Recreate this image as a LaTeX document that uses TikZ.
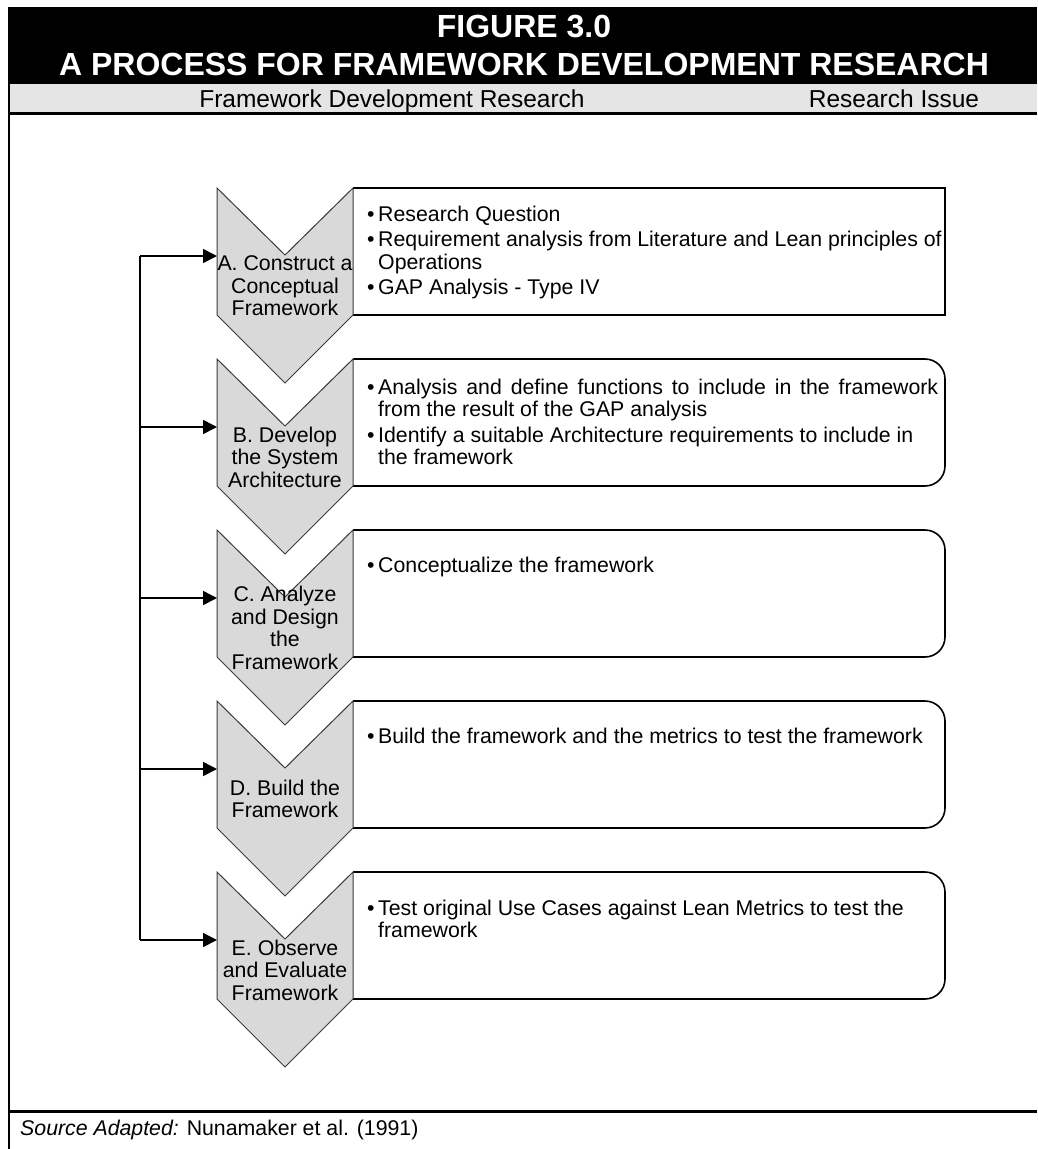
\documentclass[tikz,border=0pt]{standalone}
\usepackage{fontspec}
\setmainfont{Liberation Sans}
\usetikzlibrary{arrows.meta}

\definecolor{bandgray}{HTML}{E5E5E5}
\definecolor{chevfill}{HTML}{D9D9D9}
\definecolor{chevline}{HTML}{3A3A3A}

% bullet with hanging indent, continuation indent, and a justified full line
\newcommand{\bul}{\makebox[11pt][l]{\textbullet}}
\newcommand{\cont}{\hspace*{11pt}}
\newcommand{\fullline}[1]{\makebox[560pt][s]{#1}}

% one row: chevron step, issue box, feedback arrow
% #1 name, #2 top, #3 step text, #4 issue text, #5 issue text offset, #6 box corner style
\newcommand{\processrow}[6]{%
  \draw[issuebox,#6] (353,#2) -- (945,#2) -- (945,#2+127) -- (353,#2+127);
  \filldraw[stepshape] (217,#2) -- (285,#2+67) -- (353,#2) -- (353,#2+127)
     -- (285,#2+195) -- (217,#2+127) -- cycle;
  \node[steptext] (step#1) at (285,#2+98) {#3};
  \node[issuetext] (issue#1) at (367,#2+#5) {#4};
  \coordinate (bus#1) at (140,#2+68);
  \coordinate (in#1) at (217,#2+68);
  \draw[feedback] (bus#1) -- (in#1);
}

\begin{document}
\begin{tikzpicture}[x=1pt,y=-1pt,
  stepshape/.style={fill=chevfill, draw=chevline, line width=1pt, line join=miter},
  issuebox/.style={draw=black, line width=1.6pt, rounded corners=20pt},
  steptext/.style={align=center, inner sep=0pt, font=\fontsize{21.3}{22.5}\selectfont},
  issuetext/.style={anchor=north west, align=left, inner sep=0pt, font=\fontsize{21.3}{22.5}\selectfont},
  feedback/.style={line width=1.6pt, -{Triangle[length=14pt,width=14pt]}},
  busline/.style={line width=1.6pt},
  titletext/.style={anchor=base, white, inner sep=0pt, font=\bfseries\fontsize{32}{36}\selectfont},
  bandtext/.style={anchor=base, inner sep=0pt, font=\fontsize{24.5}{28}\selectfont}
]
\useasboundingbox (0,0) rectangle (1037,1149);

% header
\fill[black] (8,7) rectangle (1037,84);
\fill[bandgray] (8,84) rectangle (1037,112);
\draw[line width=3pt] (8,113) -- (1037,113);
\draw[line width=2.5pt] (9,7) -- (9,1149);
\draw[line width=3pt] (8,1111) -- (1037,1111);

\node[titletext] (title1) at (524,37) {FIGURE 3.0};
\node[titletext] (title2) at (524,75) {A PROCESS FOR FRAMEWORK DEVELOPMENT RESEARCH};
\node[bandtext] (colstep) at (392,107) {Framework Development Research};
\node[bandtext] (colissue) at (894,107) {Research Issue};

% process rows
\processrow{A}{188}{A. Construct a\\Conceptual\\Framework}
  {\bul Research Question\\[3pt]
   \bul Requirement analysis from Literature and Lean principles of\\
   \cont Operations\\[3pt]
   \bul GAP Analysis - Type IV}{17.5}{sharp corners}
\processrow{B}{359}{B. Develop\\the System\\Architecture}
  {\bul\fullline{Analysis and define functions to include in the framework}\\
   \cont from the result of the GAP analysis\\[3pt]
   \bul Identify a suitable Architecture requirements to include in\\
   \cont the framework}{19.5}{}
\processrow{C}{530}{C. Analyze\\and Design\\the\\Framework}
  {\bul Conceptualize the framework}{26.5}{}
\processrow{D}{701}{D. Build the\\Framework}
  {\bul Build the framework and the metrics to test the framework}{26.5}{}
\processrow{E}{872}{E. Observe\\and Evaluate\\Framework}
  {\bul Test original Use Cases against Lean Metrics to test the\\
   \cont framework}{27.5}{}

% feedback bus linking the steps back to the arrows
\draw[busline] (busA) -- (busE);

% source line
\node[anchor=base west, inner sep=0pt, font=\fontsize{21.3}{24}\selectfont] (source) at (20,1135)
  {\textit{Source Adapted:} Nunamaker et al. (1991)};
\end{tikzpicture}
\end{document}
